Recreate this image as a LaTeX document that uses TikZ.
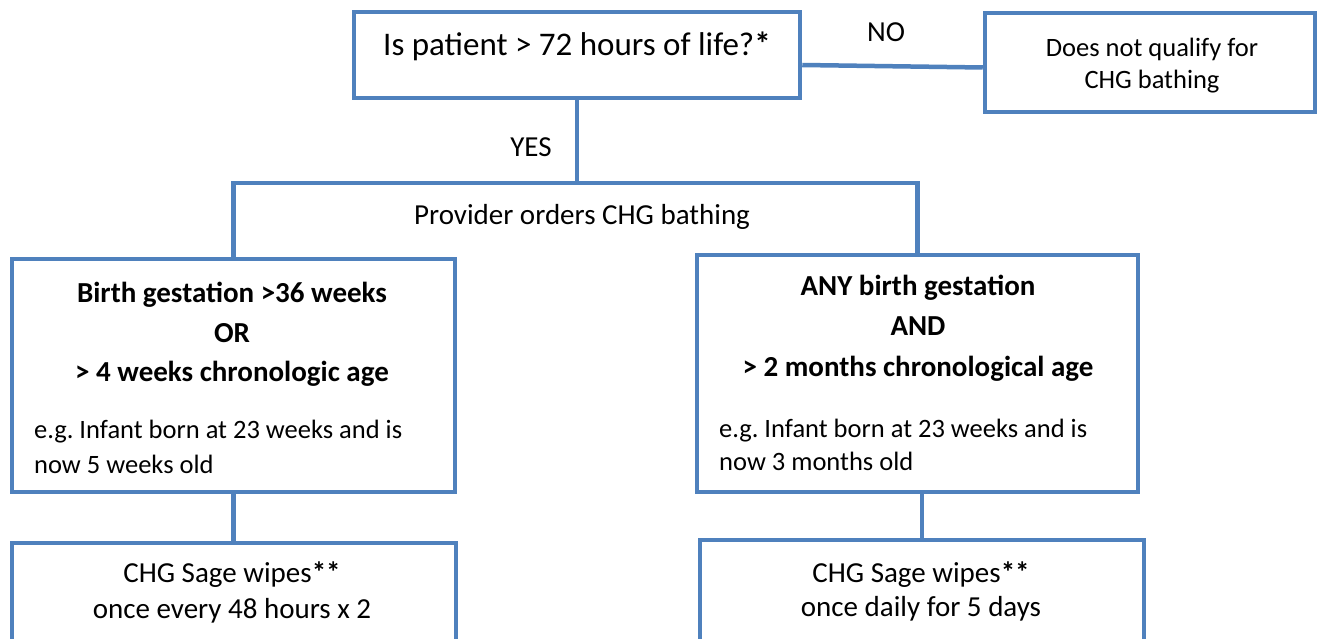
\documentclass[tikz,border=0pt]{standalone}
\usepackage{fontspec}
\setmainfont{Carlito}
\usetikzlibrary{positioning}
\definecolor{boxblue}{RGB}{79,129,189}
\frenchspacing

\tikzset{
  flowbox/.style={draw=boxblue, line width=4.5pt, fill=white, inner sep=0pt},
  link/.style={draw=boxblue, line width=4.5pt},
  txt/.style={inner sep=0pt, anchor=base, font=\fontsize{29}{35}\selectfont},
  bigtxt/.style={txt, font=\fontsize{33}{40}\selectfont},
  smalltxt/.style={inner sep=0pt, anchor=base, font=\fontsize{26.5}{32}\selectfont},
  note/.style={smalltxt, anchor=base west},
}

\begin{document}
\begin{tikzpicture}[x=1pt,y=-1pt]
\useasboundingbox[fill=white] (0,0) rectangle (1317,639);
% boxes
\node[flowbox, minimum width=446, minimum height=86] (q) at (577,55) {};
\node[flowbox, minimum width=330, minimum height=99] (nq) at (1150,62.5) {};
\node[flowbox, minimum width=443, minimum height=233] (l) at (233.5,375.5) {};
\node[flowbox, minimum width=441, minimum height=237] (r) at (917.5,373.5) {};
\node[flowbox, minimum width=444, minimum height=106] (lb) at (234,596) {};
\node[flowbox, minimum width=444, minimum height=110] (rb) at (922,595) {};
% connectors
\coordinate (split) at (577,183);
\draw[link] ([yshift=-10pt]q.east) -- ([yshift=-5pt]nq.west);
\draw[link] (q.south) -- (split);
\draw[link] (l.north) |- (split) -| (r.north);
\draw[link] (l.south) -- (l.south |- lb.north);
\draw[link] (rb.north |- r.south) -- (rb.north);
% texts
\node[bigtxt] (qt) at (577,55.5) {Is patient > 72 hours of life?\textbf{*}};
\node[txt] (no) at (886,42) {NO};
\node[smalltxt] (nq1) at (1152,56.5) {Does not qualify for};
\node[smalltxt] (nq2) at (1152,88.5) {CHG bathing};
\node[txt] (yes) at (531,157) {YES};
\node[txt] (prov) at (582,225) {Provider orders CHG bathing};
\node[txt, font=\fontsize{29}{35}\selectfont\bfseries] (l1) at (232,302) {Birth gestation >36 weeks};
\node[txt, font=\fontsize{29}{35}\selectfont\bfseries] (l2) at (232,342) {OR};
\node[txt, font=\fontsize{29}{35}\selectfont\bfseries] (l3) at (232,381) {> 4 weeks chronologic age};
\node[note] (l4) at (34,438.5) {e.g. Infant born at 23 weeks and is};
\node[note] (l5) at (34,473.5) {now 5 weeks old};
\node[txt, font=\fontsize{29}{35}\selectfont\bfseries] (r1) at (918,295) {ANY birth gestation};
\node[txt, font=\fontsize{29}{35}\selectfont\bfseries] (r2) at (918,335) {AND};
\node[txt, font=\fontsize{29}{35}\selectfont\bfseries] (r3) at (918,376) {> 2 months chronological age};
\node[note] (r4) at (719,437.5) {e.g. Infant born at 23 weeks and is};
\node[note] (r5) at (719,470.5) {now 3 months old};
\node[txt] (lb1) at (232,582) {CHG Sage wipes\textbf{**}};
\node[txt] (lb2) at (232,618) {once every 48 hours x 2};
\node[txt] (rb1) at (921,582) {CHG Sage wipes\textbf{**}};
\node[txt] (rb2) at (921,616) {once daily for 5 days};
\end{tikzpicture}
\end{document}
